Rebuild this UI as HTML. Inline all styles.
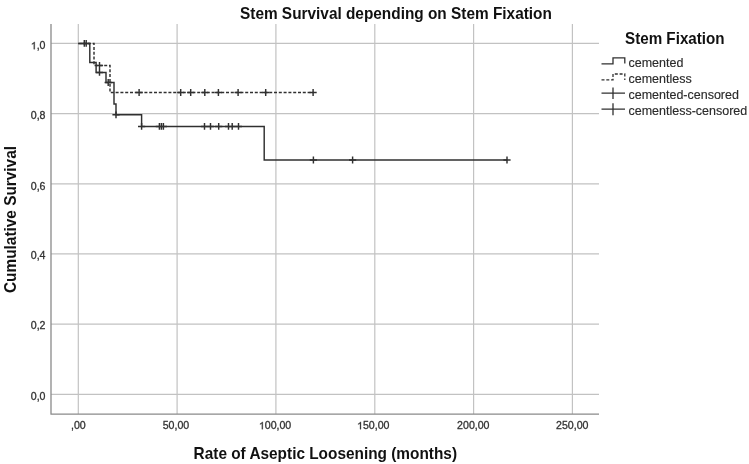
<!DOCTYPE html>
<html><head><meta charset="utf-8">
<style>
html,body{margin:0;padding:0;background:#fff;}
body{width:749px;height:464px;overflow:hidden;}
svg{display:block;filter:blur(0.3px);}
text{font-family:"Liberation Sans",sans-serif;}
</style></head>
<body>
<svg width="749" height="464" viewBox="0 0 749 464">
<rect width="749" height="464" fill="#fff"/>
<g stroke="#c2c2c2" stroke-width="1.2" fill="none">
<path d="M78.3 24V414M177.1 24V414M275.9 24V414M374.8 24V414M473.6 24V414M572.4 24V414"/>
<path d="M51 43.4H599M51 113.6H599M51 183.8H599M51 253.9H599M51 324.1H599M51 394.3H599"/>
</g>
<path d="M51 24V414.2H599" stroke="#8a8a8a" stroke-width="1.3" fill="none" stroke-linejoin="round"/>
<g font-size="10.6" fill="#333" stroke="#333" stroke-width="0.3">
<text x="45.5" y="49.2" text-anchor="end"> ,0</text>
<path transform="translate(30.76 49.2) scale(0.00518 -0.00518)" d="M763 0H583V1100Q518 1040 412 980T223 892V1060Q374 1130 487 1225T647 1409H763Z" fill="#333" stroke="#333" stroke-width="58.0"/>
<text x="45.5" y="119.38" text-anchor="end">0,8</text>
<text x="45.5" y="189.56" text-anchor="end">0,6</text>
<text x="45.5" y="258.74" text-anchor="end">0,4</text>
<text x="45.5" y="328.92" text-anchor="end">0,2</text>
<text x="45.5" y="400.1" text-anchor="end">0,0</text>
<text x="78.4" y="429.2" text-anchor="middle">,00</text>
<text x="175.97" y="429.2" text-anchor="middle">50,00</text>
<text x="275.05" y="429.2" text-anchor="middle"> 00,00</text>
<path transform="translate(258.84 429.2) scale(0.00518 -0.00518)" d="M763 0H583V1100Q518 1040 412 980T223 892V1060Q374 1130 487 1225T647 1409H763Z" fill="#333" stroke="#333" stroke-width="58.0"/>
<text x="373.23" y="429.2" text-anchor="middle"> 50,00</text>
<path transform="translate(357.02 429.2) scale(0.00518 -0.00518)" d="M763 0H583V1100Q518 1040 412 980T223 892V1060Q374 1130 487 1225T647 1409H763Z" fill="#333" stroke="#333" stroke-width="58.0"/>
<text x="473.3" y="429.2" text-anchor="middle">200,00</text>
<text x="572.27" y="429.2" text-anchor="middle">250,00</text>
</g>
<g font-size="15.4" font-weight="bold" fill="#111">
<text transform="translate(240 18.7) scale(1 1.05)">Stem Survival depending on Stem Fixation</text>
<text transform="translate(193.6 459) scale(1 1.05)">Rate of Aseptic Loosening (months)</text>
<text transform="translate(15.7 293) rotate(-90) scale(1 1.05)">Cumulative Survival</text>
<text transform="translate(625 43.5) scale(1 1.05)" font-size="15.2">Stem Fixation</text>
</g>
<g fill="none" stroke="#303030" stroke-width="1.45">
<path d="M78.3 43.4H94V65.5H110V92.5H313.4" stroke-dasharray="3 1.8"/>
<path d="M78.3 43.4H89.8V62.5H96.1V72.4H106V82.5H114V104H116V114.8H141.6V126.4H264.2V160H507"/>
<path d="M84.3 40.0v6.8M80.7 43.4h7.2M86.2 40.0v6.8M82.60000000000001 43.4h7.2M99.5 62.1v6.8M95.9 65.5h7.2M99.5 69.0v6.8M95.9 72.4h7.2M108.2 79.1v6.8M104.60000000000001 82.5h7.2M116 111.39999999999999v6.8M112.4 114.8h7.2M141.6 123.0v6.8M138.0 126.4h7.2M159.4 123.0v6.8M155.8 126.4h7.2M161.4 123.0v6.8M157.8 126.4h7.2M163.4 123.0v6.8M159.8 126.4h7.2M204.5 123.0v6.8M200.9 126.4h7.2M210.5 123.0v6.8M206.9 126.4h7.2M218.7 123.0v6.8M215.1 126.4h7.2M228.5 123.0v6.8M224.9 126.4h7.2M232.2 123.0v6.8M228.6 126.4h7.2M238.5 123.0v6.8M234.9 126.4h7.2M313.4 156.6v6.8M309.79999999999995 160h7.2M352.6 156.6v6.8M349.0 160h7.2M507 156.6v6.8M503.4 160h7.2M139.1 89.1v6.8M135.5 92.5h7.2M180.7 89.1v6.8M177.1 92.5h7.2M190.7 89.1v6.8M187.1 92.5h7.2M204.8 89.1v6.8M201.20000000000002 92.5h7.2M218.4 89.1v6.8M214.8 92.5h7.2M238.1 89.1v6.8M234.5 92.5h7.2M265.7 89.1v6.8M262.09999999999997 92.5h7.2M313.1 89.1v6.8M309.5 92.5h7.2"/>
</g>
<g fill="none" stroke="#303030" stroke-width="1.3">
<path d="M601.5 63.8H613V57.9H624.8V63.5"/>
<path d="M601.5 79.9H613V74H624.8V80" stroke-dasharray="3 1.8"/>
<path d="M601.5 93.1H625M613 87.4V98.9"/>
<path d="M601.5 109.1H625M613 103.2V115.3"/>
</g>
<g font-size="12.5" fill="#2b2b2b" stroke="#2b2b2b" stroke-width="0.15">
<text transform="translate(628.5 67) scale(1 1.07)">cemented</text>
<text transform="translate(628.5 83) scale(1 1.07)">cementless</text>
<text transform="translate(628.5 99) scale(1 1.07)">cemented-censored</text>
<text transform="translate(628.5 115.4) scale(1 1.07)">cementless-censored</text>
</g>
</svg>
</body></html>
